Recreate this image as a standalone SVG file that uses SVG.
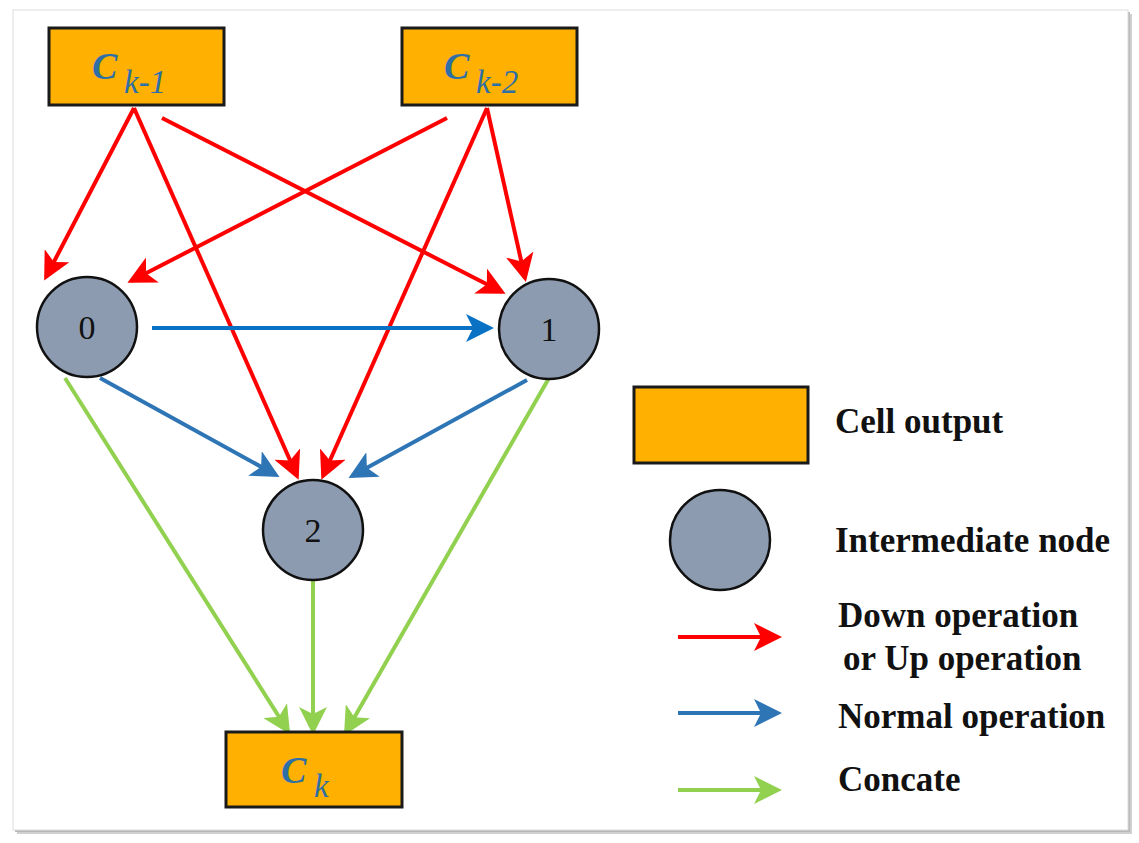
<svg xmlns="http://www.w3.org/2000/svg" width="1139" height="843" viewBox="0 0 1139 843">
<style>
.box{fill:#ffb000;stroke:#1a1a1a;stroke-width:3}
.node{fill:#8d9bb0;stroke:#111;stroke-width:2.5}
.num{font-family:"Liberation Serif",serif;font-size:34px;fill:#111;text-anchor:middle}
.cb{font-family:"Liberation Serif",serif;font-weight:bold;font-style:italic;font-size:38px;fill:#2e6fa6}
.cs{font-family:"Liberation Serif",serif;font-style:italic;font-size:33px;fill:#2e6fa6}
.leg{font-family:"Liberation Serif",serif;font-weight:bold;font-size:35px;fill:#111}
.r{stroke:#ff0000;stroke-width:4;fill:none;marker-end:url(#mr)}
.b{stroke:#2e75b6;stroke-width:4;fill:none;marker-end:url(#mb)}
.b2{stroke:#0a72c4;stroke-width:4;fill:none;marker-end:url(#mb2)}
.g{stroke:#92d050;stroke-width:4;fill:none;marker-end:url(#mg)}
</style>
<defs>
<marker id="mr" markerUnits="userSpaceOnUse" viewBox="0 0 28 28" refX="24" refY="14" markerWidth="28" markerHeight="28" orient="auto"><path d="M0,0 L28,14 L0,28 L7,14 z" fill="#ff0000"/></marker>
<marker id="mb" markerUnits="userSpaceOnUse" viewBox="0 0 28 28" refX="24" refY="14" markerWidth="28" markerHeight="28" orient="auto"><path d="M0,0 L28,14 L0,28 L7,14 z" fill="#2e75b6"/></marker>
<marker id="mb2" markerUnits="userSpaceOnUse" viewBox="0 0 28 28" refX="24" refY="14" markerWidth="28" markerHeight="28" orient="auto"><path d="M0,0 L28,14 L0,28 L7,14 z" fill="#0a72c4"/></marker>
<marker id="mg" markerUnits="userSpaceOnUse" viewBox="0 0 28 28" refX="24" refY="14" markerWidth="28" markerHeight="28" orient="auto"><path d="M0,0 L28,14 L0,28 L7,14 z" fill="#92d050"/></marker>
</defs>
<rect x="0" y="0" width="1139" height="843" fill="#ffffff"/>
<g id="frame">
<rect x="17" y="14" width="1115" height="820" fill="#d0d0d0"/>
<rect x="15" y="12" width="1115" height="820" fill="#b8b8b8"/>
<rect x="13" y="10" width="1115" height="820" fill="#ffffff" stroke="#dddddd" stroke-width="1"/>
</g>
<g id="connectors">
<line class="r" x1="134" y1="108" x2="46" y2="277"/>
<line class="r" x1="134" y1="108" x2="297" y2="476"/>
<line class="r" x1="162" y1="118" x2="502" y2="292"/>
<line class="r" x1="447" y1="118" x2="131" y2="281"/>
<line class="r" x1="487" y1="108" x2="323" y2="476"/>
<line class="r" x1="487" y1="108" x2="525" y2="278"/>
<line class="b2" x1="152" y1="328" x2="490" y2="328"/>
<line class="b" x1="100" y1="378" x2="276" y2="475"/>
<line class="b" x1="527" y1="380" x2="352" y2="476"/>
<line class="g" x1="65" y1="378" x2="288" y2="731"/>
<line class="g" x1="313" y1="580" x2="313" y2="731"/>
<line class="g" x1="549" y1="378" x2="346" y2="732"/>
</g>
<g id="ck1">
<rect class="box" x="49" y="28" width="175" height="77"/>
<text class="cb" x="92" y="79">C</text>
<text class="cs" x="124" y="93">k-1</text>
</g>
<g id="ck2">
<rect class="box" x="402" y="28" width="175" height="77"/>
<text class="cb" x="444" y="79">C</text>
<text class="cs" x="476" y="93">k-2</text>
</g>
<g id="ck">
<rect class="box" x="226" y="732" width="176" height="75"/>
<text class="cb" x="281" y="783">C</text>
<text class="cs" x="314" y="797">k</text>
</g>
<g id="n0">
<circle class="node" cx="87" cy="327" r="50"/>
<text class="num" x="87" y="339">0</text>
</g>
<g id="n1">
<circle class="node" cx="549" cy="329" r="50"/>
<text class="num" x="549" y="341">1</text>
</g>
<g id="n2">
<circle class="node" cx="313" cy="530" r="50"/>
<text class="num" x="313" y="542">2</text>
</g>
<g id="legend">
<rect class="box" x="634" y="387" width="174" height="76"/>
<text class="leg" x="835" y="433">Cell output</text>
<circle class="node" cx="720" cy="540" r="50"/>
<text class="leg" x="835" y="552">Intermediate node</text>
<line class="r" x1="678" y1="637" x2="778" y2="637"/>
<text class="leg" x="838" y="627">Down operation</text>
<text class="leg" x="843" y="670">or Up operation</text>
<line class="b" x1="678" y1="713" x2="778" y2="713"/>
<text class="leg" x="838" y="728">Normal operation</text>
<line class="g" x1="678" y1="790" x2="778" y2="790"/>
<text class="leg" x="838" y="791">Concate</text>
</g>
</svg>
